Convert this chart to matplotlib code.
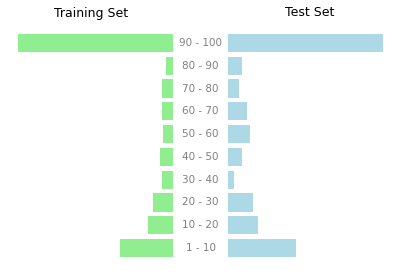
import matplotlib
matplotlib.use("Agg")
import matplotlib.pyplot as plt

categories = ["1 - 10", "10 - 20", "20 - 30", "30 - 40", "40 - 50",
              "50 - 60", "60 - 70", "70 - 80", "80 - 90", "90 - 100"]
train_values = [53, 25, 20, 11, 13, 10, 11, 11, 7, 155]
test_values = [68, 30, 25, 6, 14, 22, 19, 11, 14, 155]

W, H = 400, 279
fig = plt.figure(figsize=(W / 100, H / 100), dpi=100)

bottom = 1 - 259.4 / H
height = (259.4 - 31.6) / H
axL = fig.add_axes([10 / W, bottom, 163 / W, height])
axR = fig.add_axes([228 / W, bottom, 163 / W, height])

y = list(range(len(categories)))
axL.barh(y, train_values, height=0.8, color="#90EE90")
axR.barh(y, test_values, height=0.8, color="#ADD8E6")

for ax, vals in ((axL, train_values), (axR, test_values)):
    ax.set_ylim(-0.5, len(categories) - 0.5)
    ax.set_xlim(0, max(vals) * 1.05)
    ax.set_xticks([])
    ax.set_yticks([])
    for s in ax.spines.values():
        s.set_visible(False)
axL.invert_xaxis()

for i, c in enumerate(categories):
    yc = bottom + height * (i + 0.5) / len(categories)
    fig.text(200.5 / W, yc, c, ha="center", va="center", fontsize=7.5, color="#808080")

fig.text(91.5 / W, 1 - 13 / H, "Training Set", ha="center", va="center", fontsize=9, color="black")
fig.text(309.5 / W, 1 - 13 / H, "Test Set", ha="center", va="center", fontsize=9, color="black")

fig.savefig("out.png", dpi=100)
